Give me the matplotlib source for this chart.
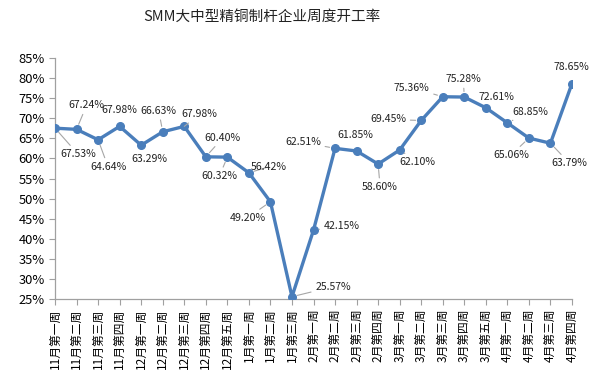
import matplotlib
matplotlib.use("Agg")
from matplotlib import pyplot as plt
from matplotlib.ticker import FuncFormatter
import numpy as np

plt.rcParams['font.family'] = ['Noto Sans CJK SC', 'DejaVu Sans']

weeks = ["11月第一周", "11月第二周", "11月第三周", "11月第四周",
         "12月第一周", "12月第二周", "12月第三周", "12月第四周", "12月第五周",
         "1月第一周", "1月第二周", "1月第三周",
         "2月第一周", "2月第二周", "2月第三周", "2月第四周",
         "3月第一周", "3月第二周", "3月第三周", "3月第四周", "3月第五周",
         "4月第一周", "4月第二周", "4月第三周", "4月第四周"]
rate = [67.53, 67.24, 64.64, 67.98, 63.29, 66.63, 67.98, 60.40, 60.32,
        56.42, 49.20, 25.57, 42.15, 62.51, 61.85, 58.60, 62.10, 69.45,
        75.36, 75.28, 72.61, 68.85, 65.06, 63.79, 78.65]

# label offsets in pixels (dx, dy) from each point
offs = [(23, -26), (10, 24), (10, -27), (0, 16), (8, -14), (-4, 21), (15, 12),
        (17, 19), (-8, -19), (20, 6), (-23, -16), (41, 10), (28, 4), (-32, 6),
        (-1, 16), (2, -23), (18, -12), (-33, 1), (-31, 9), (-1, 18), (11, 11),
        (23, 11), (-18, -17), (19, -20), (-1, 17)]

fig = plt.figure(figsize=(6.1, 3.76), dpi=100)
ax = fig.add_axes([0.0902, 0.2048, 0.8475, 0.6409])

x = np.arange(len(weeks))
ax.plot(x, rate, color='#4a7ebb', lw=2.4, marker='o', ms=5.5, zorder=3)

for i, v in enumerate(rate):
    dx, dy = offs[i]
    lead = None
    if (dx * dx + dy * dy) ** 0.5 > 18:
        lead = dict(arrowstyle='-', color='#a6a6a6', lw=0.8, shrinkA=1, shrinkB=4)
    ax.annotate(f"{v:.2f}%", (i, v), xytext=(dx, dy), textcoords='offset pixels',
                ha='center', va='center', fontsize=7.6, color='#222222',
                arrowprops=lead, zorder=4)

ax.set_xlim(0, len(weeks) - 1)
ax.set_ylim(25, 85)
ax.set_yticks(np.arange(25, 86, 5))
ax.yaxis.set_major_formatter(FuncFormatter(lambda v, p: f"{v:.0f}%"))
ax.set_xticks(x)
ax.set_xticklabels(weeks, rotation=90, fontsize=8.5)
ax.tick_params(axis='y', labelsize=9.3, length=4, color='#a0a0a0', width=0.8)
ax.tick_params(axis='x', length=4, color='#a0a0a0', width=0.8, pad=3)
ax.set_clip_on(False)

for s in ['top', 'right']:
    ax.spines[s].set_visible(False)
for s in ['left', 'bottom']:
    ax.spines[s].set_color('#a0a0a0')
    ax.spines[s].set_linewidth(0.9)

fig.text(262 / 610, 1 - 17 / 376, "SMM大中型精铜制杆企业周度开工率",
         ha='center', va='center', fontsize=10.5, color='#222222')

fig.savefig("out.png", dpi=100)
